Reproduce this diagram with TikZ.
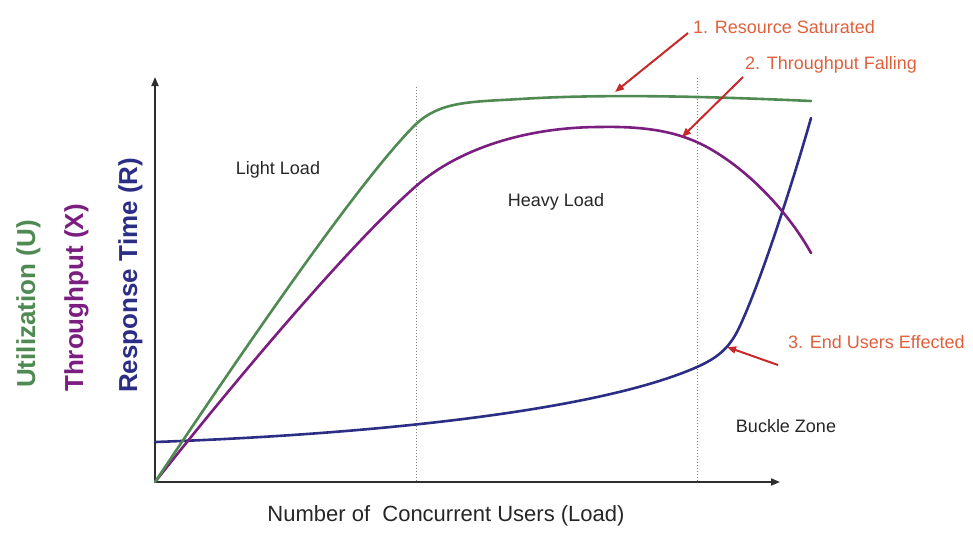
\documentclass[tikz,border=0pt]{standalone}
\usepackage{fontspec}
\setmainfont{Liberation Sans}
\usetikzlibrary{arrows.meta}
\definecolor{ugreen}{HTML}{4F8A52}
\definecolor{xpurple}{HTML}{7A1E80}
\definecolor{rblue}{HTML}{2C2E86}
\definecolor{notered}{HTML}{E0603C}
\definecolor{arrred}{HTML}{C8282A}
\definecolor{axisgray}{HTML}{2E2E2E}
\tikzset{
  axisline/.style={draw=axisgray, line width=1.8pt, -{Triangle[length=9pt,width=7pt]}},
  divider/.style={draw=gray, line width=1pt, dotted},
  curve/.style={line width=2.6pt, line cap=round, line join=round},
  zonelabel/.style={font=\fontsize{18}{20}\selectfont, text=black!85, inner sep=0pt},
  note/.style={font=\fontsize{18}{20}\selectfont, text=notered, inner sep=0pt},
  pointer/.style={draw=arrred, line width=2pt, -{Triangle[length=9pt,width=7pt]}},
  ylabel/.style={font=\bfseries\fontsize{26}{28}\selectfont, rotate=90, anchor=base west, inner sep=0pt},
}
\begin{document}
\begin{tikzpicture}[x=1pt,y=-1pt]
\useasboundingbox (0,0) rectangle (973,550);
% axes
\coordinate (O) at (155,482);
\coordinate (ytop) at (155,77);
\coordinate (xend) at (780,482);
\draw[axisline] (O) -- (ytop);
\draw[axisline] (O) -- (xend);
% dividers
\coordinate (d1t) at (416,87);
\coordinate (d1b) at (416,482);
\coordinate (d2t) at (697,78);
\coordinate (d2b) at (697,482);
\draw[divider] (d1t) -- (d1b);
\draw[divider] (d2t) -- (d2b);
% curves
\draw[curve, rblue] (155,442) .. controls (380,434) and (600,410) .. (697,367)
  .. controls (715,359) and (728,350) .. (738,330)
  .. controls (760,285) and (795,175) .. (811,118);
\draw[curve, xpurple] (O) .. controls (250,362) and (355,240) .. (415,187)
  .. controls (460,147) and (530,127) .. (600,127)
  .. controls (650,126) and (680,133) .. (705,146)
  .. controls (750,170) and (790,215) .. (811,253);
\draw[curve, ugreen] (O) .. controls (250,340) and (360,180) .. (415,125)
  .. controls (440,101) and (470,102) .. (520,99)
  .. controls (600,94) and (700,96) .. (811,101);
% zone labels
\node[zonelabel] (light) at (278,170) {Light Load};
\node[zonelabel] (heavy) at (556,202) {Heavy Load};
\node[zonelabel] (buckle) at (786,426) {Buckle Zone};
% x label
\node[font=\fontsize{22}{24}\selectfont, text=black!85, inner sep=0pt] (xlab) at (446,516) {Number of\ \ Concurrent Users (Load)};
% y labels
\node[ylabel, text=ugreen] (ulab) at (35,388) {Utilization (U)};
\node[ylabel, text=xpurple] (tlab) at (83,392) {Throughput (X)};
\node[ylabel, text=rblue] (rlab) at (137,393) {Response Time (R)};
% notes
\node[note, anchor=west] (n1) at (693,27) {1. Resource Saturated};
\node[note, anchor=west] (n2) at (745,65) {2. Throughput Falling};
\node[note, anchor=west] (n3) at (788,342) {3. End Users Effected};
\coordinate (a1s) at (688,33);
\coordinate (a1e) at (615,92);
\coordinate (a2s) at (743,77);
\coordinate (a2e) at (682,137);
\coordinate (a3s) at (778,365);
\coordinate (a3e) at (727,347);
\draw[pointer] (a1s) -- (a1e);
\draw[pointer] (a2s) -- (a2e);
\draw[pointer] (a3s) -- (a3e);
\end{tikzpicture}
\end{document}
